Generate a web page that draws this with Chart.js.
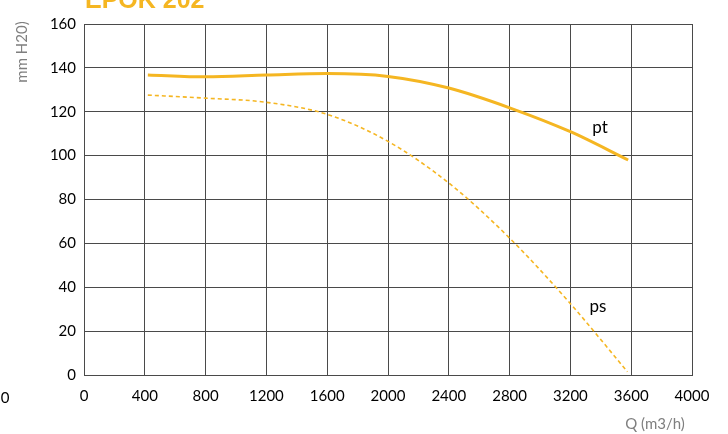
<!DOCTYPE html>
<html>
<head>
<meta charset="utf-8">
<script src="https://cdn.jsdelivr.net/npm/chart.js@4/dist/chart.umd.min.js"></script>
<style>
html,body{margin:0;padding:0;background:#fff;}
#wrap{width:728px;height:434px;position:relative;}
</style>
</head>
<body>
<div id="wrap"><canvas id="c" width="728" height="434"></canvas></div>
<script>
const chartTitle = "EPOK 202";
const xTitle = "Q (m3/h)";
const yTitle = "mm H20)";
const qPt = [420, 800, 1200, 1600, 2000, 2400, 2800, 3200, 3580];
const ptValues = [136.8, 135.9, 136.7, 137.4, 136.1, 130.8, 121.8, 110.9, 98];
const qPs = [420, 800, 1200, 1600, 2000, 2400, 2800, 3200, 3575];
const psValues = [127.6, 126.2, 124.3, 118.8, 106.5, 87.5, 62.4, 32.5, 1.5];
const xMin = 0, xMax = 4000, xStep = 400;
const yMin = 0, yMax = 160, yStep = 20;
const seriesLabels = [{text: "pt", x: 3395, y: 112.6}, {text: "ps", x: 3381, y: 31.4}];

const mainColor = "#F5B622";
const fontFam = "Lato, 'Open Sans', sans-serif";

const extras = {
  id: 'extras',
  afterDraw(chart) {
    const ctx = chart.ctx;
    const xs = chart.scales.x, ys = chart.scales.y;
    ctx.save();
    ctx.fillStyle = mainColor;
    ctx.font = "bold 25px 'Liberation Sans', Arial, sans-serif";
    ctx.textAlign = 'left';
    ctx.textBaseline = 'alphabetic';
    ctx.fillText(chartTitle, 85, 8);
    ctx.fillStyle = '#000';
    ctx.font = "17px " + fontFam;
    ctx.textAlign = 'center';
    ctx.textBaseline = 'middle';
    seriesLabels.forEach(l => ctx.fillText(l.text, xs.getPixelForValue(l.x), ys.getPixelForValue(l.y)));
    ctx.fillStyle = '#7f7f7f';
    ctx.font = "15px " + fontFam;
    ctx.fillText(xTitle, 655, 424);
    ctx.save();
    ctx.translate(22, 52);
    ctx.rotate(-Math.PI / 2);
    ctx.fillStyle = '#7f7f7f';
    ctx.font = "15px " + fontFam;
    ctx.fillText(yTitle, 0, 0);
    ctx.restore();
    ctx.fillStyle = '#000';
    ctx.font = "15px " + fontFam;
    ctx.fillText("0", 5, 398);
    ctx.restore();
  }
};

new Chart(document.getElementById('c'), {
  type: 'line',
  data: {
    datasets: [
      {
        label: 'pt',
        data: qPt.map((q, i) => ({x: q, y: ptValues[i]})),
        borderColor: mainColor,
        borderWidth: 3,
        pointRadius: 0,
        fill: false,
        cubicInterpolationMode: 'monotone'
      },
      {
        label: 'ps',
        data: qPs.map((q, i) => ({x: q, y: psValues[i]})),
        borderColor: mainColor,
        borderWidth: 1.6,
        borderDash: [4, 3],
        pointRadius: 0,
        fill: false,
        cubicInterpolationMode: 'monotone'
      }
    ]
  },
  options: {
    responsive: false,
    animation: false,
    layout: {padding: {left: 0, right: 36, top: 24, bottom: 0}},
    plugins: {legend: {display: false}, tooltip: {enabled: false}, title: {display: false}},
    scales: {
      x: {
        type: 'linear', min: xMin, max: xMax,
        ticks: {stepSize: xStep, color: '#000', font: {family: fontFam, size: 15}, padding: 12, maxRotation: 0,
                callback: v => String(v)},
        grid: {color: '#4a4a4a', lineWidth: 1, drawTicks: false},
        border: {color: '#4a4a4a', width: 1},
        afterFit(s) { s.height = 59; }
      },
      y: {
        min: yMin, max: yMax,
        ticks: {stepSize: yStep, color: '#000', font: {family: fontFam, size: 15}, padding: 8,
                callback: v => String(v)},
        grid: {color: '#4a4a4a', lineWidth: 1, drawTicks: false},
        border: {color: '#4a4a4a', width: 1},
        afterFit(s) { s.width = 84; }
      }
    }
  },
  plugins: [extras]
});
</script>
</body>
</html>
